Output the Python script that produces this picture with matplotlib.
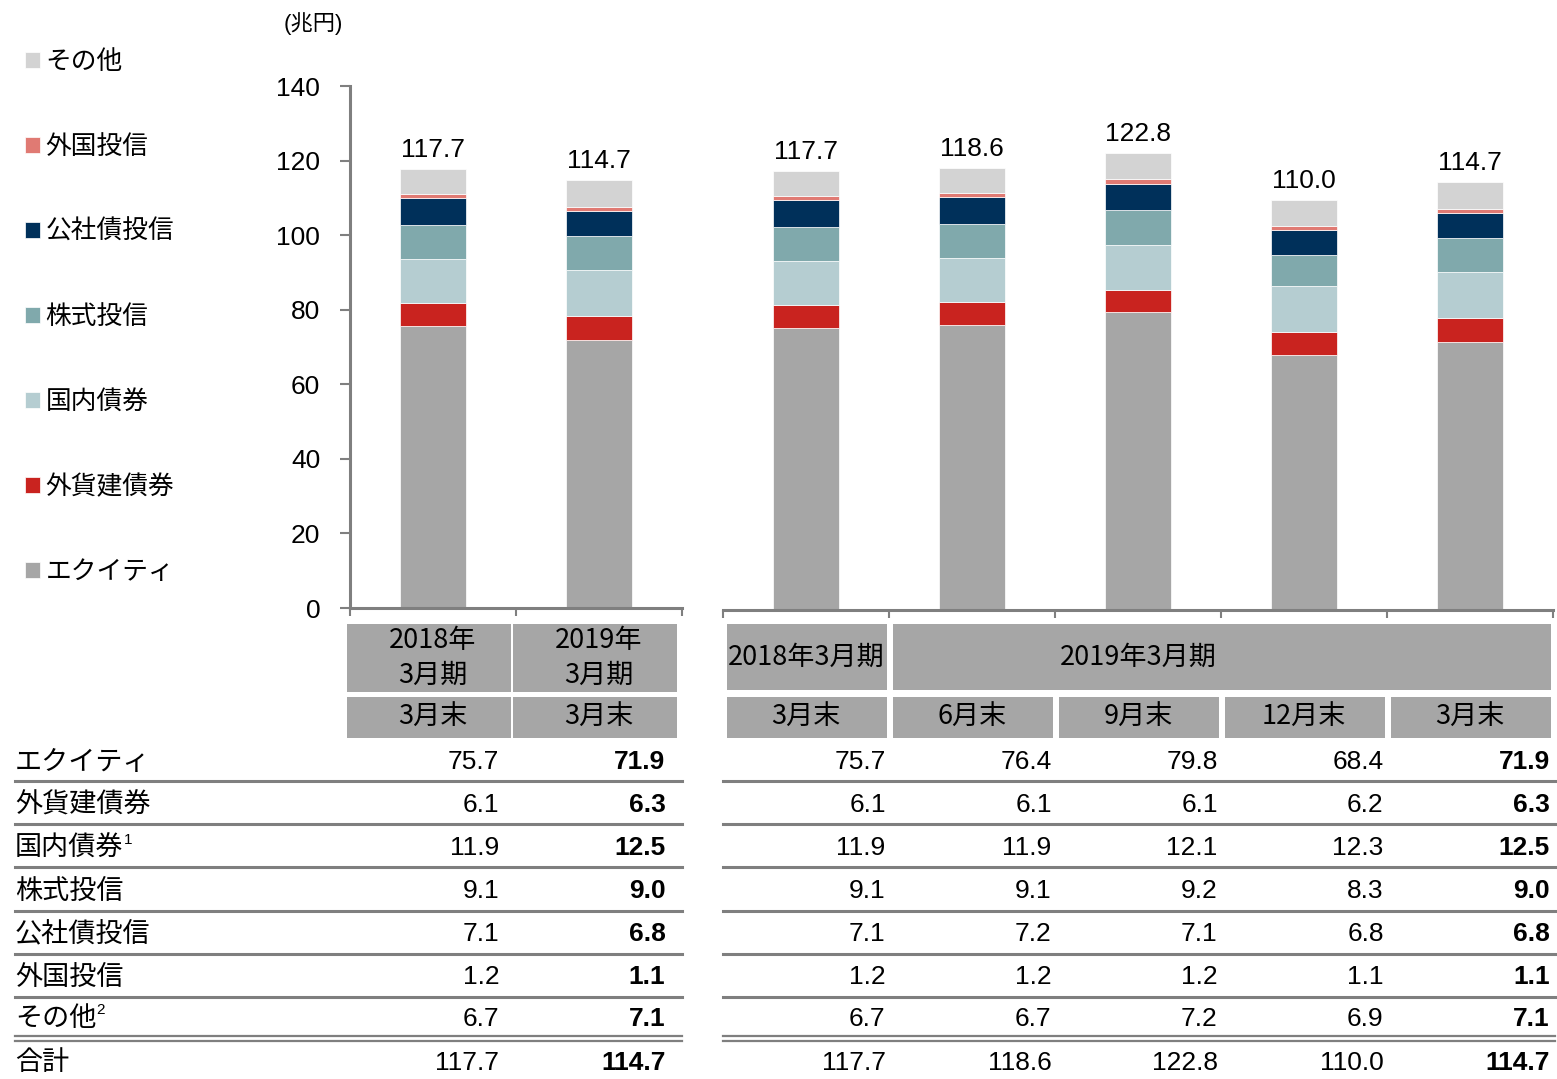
import matplotlib
matplotlib.use('Agg')
import matplotlib.pyplot as plt
import numpy as np
from matplotlib import transforms
from matplotlib.patches import Rectangle
from matplotlib.lines import Line2D

# data (兆円)
series = ['エクイティ', '外貨建債券', '国内債券', '株式投信', '公社債投信', '外国投信', 'その他']
row_labels = ['エクイティ', '外貨建債券', '国内債券', '株式投信', '公社債投信', '外国投信', 'その他', '合計']
row_notes = ['', '', '1', '', '', '', '2', '']

# fiscal year-end panel
fy_period = ['2018年\n3月期', '2019年\n3月期']
fy_month = ['3月末', '3月末']
fy_equity = [75.7, 71.9]
fy_fxbond = [6.1, 6.3]
fy_jpbond = [11.9, 12.5]
fy_stockfund = [9.1, 9.0]
fy_bondfund = [7.1, 6.8]
fy_foreignfund = [1.2, 1.1]
fy_other = [6.7, 7.1]
fy_total = [117.7, 114.7]

# quarter-end panel
q_period = ['2018年3月期', '2019年3月期']
q_period_span = [(0, 0), (1, 4)]
q_period_textpos = [0, 2]
q_month = ['3月末', '6月末', '9月末', '12月末', '3月末']
q_equity = [75.7, 76.4, 79.8, 68.4, 71.9]
q_fxbond = [6.1, 6.1, 6.1, 6.2, 6.3]
q_jpbond = [11.9, 11.9, 12.1, 12.3, 12.5]
q_stockfund = [9.1, 9.1, 9.2, 8.3, 9.0]
q_bondfund = [7.1, 7.2, 7.1, 6.8, 6.8]
q_foreignfund = [1.2, 1.2, 1.2, 1.1, 1.1]
q_other = [6.7, 6.7, 7.2, 6.9, 7.1]
q_total = [117.7, 118.6, 122.8, 110.0, 114.7]

colors = ['#a6a6a6', '#c9231f', '#b5cdd1', '#80a9ac', '#00305a', '#e07a73', '#d3d3d3']
axis_color = '#7f7f7f'
header_color = '#a6a6a6'

plt.rcParams['font.family'] = ['Liberation Sans', 'Noto Sans CJK JP']
num_font = ['Liberation Sans Narrow', 'Liberation Sans']
cjk_font = ['Noto Sans CJK JP', 'Liberation Sans']

W, H = 1557, 1079
fig = plt.figure(figsize=(W / 100, H / 100), dpi=100)


def rect(x0, y_top, x1, y_bottom):
    return [x0 / W, 1 - y_bottom / H, (x1 - x0) / W, (y_bottom - y_top) / H]


def fy(y):
    return 1 - y / H


axL = fig.add_axes(rect(350, 86, 682, 608))
axR = fig.add_axes(rect(723, 88, 1553, 610))


def draw_bars(ax, stacks, total):
    x = np.arange(len(total))
    bottom = np.zeros(len(total))
    containers = []
    for name, vals, c in zip(series, stacks, colors):
        bc = ax.bar(x, vals, width=0.4, bottom=bottom, color=c, label=name,
                    edgecolor='white', linewidth=0.5)
        bottom += np.array(vals)
        containers.append(bc)
    ax.bar_label(containers[-1], labels=[f'{t:.1f}' for t in total], padding=5, fontsize=19)
    ax.set_xlim(-0.5, len(total) - 0.5)
    ax.set_ylim(0, 140)
    ax.set_xticks([])
    ax.set_xticks(np.arange(len(total) + 1) - 0.5, minor=True)
    ax.tick_params(axis='x', which='minor', direction='out', length=6, width=1.5, color=axis_color)
    for s in ['top', 'right']:
        ax.spines[s].set_visible(False)
    ax.spines['bottom'].set_color(axis_color)
    ax.spines['bottom'].set_linewidth(2.2)
    return containers


fy_stacks = [fy_equity, fy_fxbond, fy_jpbond, fy_stockfund, fy_bondfund, fy_foreignfund, fy_other]
q_stacks = [q_equity, q_fxbond, q_jpbond, q_stockfund, q_bondfund, q_foreignfund, q_other]
handles = draw_bars(axL, fy_stacks, fy_total)
draw_bars(axR, q_stacks, q_total)

axL.set_yticks(np.arange(0, 141, 20))
axL.tick_params(axis='y', direction='out', length=7, width=1.5, color=axis_color, labelsize=19, pad=14.5)
axL.spines['left'].set_color(axis_color)
axL.spines['left'].set_linewidth(2.2)
axR.spines['left'].set_visible(False)
axR.set_yticks([])

fig.text(313 / W, fy(24), '(兆円)', ha='center', va='center', fontsize=16)

fig.legend(handles[::-1], series[::-1], loc='upper left', bbox_to_anchor=(25 / W, fy(50)),
           frameon=False, fontsize=18.5, handlelength=0.6, handleheight=0.6,
           handletextpad=0.2, labelspacing=2.37, borderpad=0, borderaxespad=0)


# header boxes under the axes
def header(ax, i0, i1, y0, y1, text, pad, tx=None, fs=19.5):
    tr = transforms.blended_transform_factory(ax.transData, fig.transFigure)
    ax.add_patch(Rectangle((i0 + pad[0], fy(y1)), (i1 - i0) + pad[1] - pad[0], fy(y0) - fy(y1),
                           transform=tr, color=header_color, clip_on=False, lw=0))
    if tx is None:
        tx = (i0 + i1) / 2
    ax.text(tx, fy((y0 + y1) / 2), text, transform=tr, ha='center', va='center',
            fontsize=fs, family=cjk_font, linespacing=1.4, clip_on=False)


padL = (-0.52, 0.47)
padR = (-0.475, 0.49)
for i, (p, m) in enumerate(zip(fy_period, fy_month)):
    header(axL, i, i, 624, 692, p, padL)
    header(axL, i, i, 697, 738, m, padL)
for p, (a, b), tx in zip(q_period, q_period_span, q_period_textpos):
    header(axR, a, b, 624, 690, p, padR, tx)
for i, m in enumerate(q_month):
    header(axR, i, i, 697, 738, m, padR)

# table
row_y = [762, 805, 848, 891, 934, 977, 1019, 1063]
line_y = [781, 824, 867, 911, 954, 997]
label_texts = []
for lab, y in zip(row_labels, row_y):
    label_texts.append(fig.text(15 / W, fy(y), lab, ha='left', va='center', fontsize=19.5, family=cjk_font))


def table_vals(ax, rows, offset):
    tr = transforms.blended_transform_factory(ax.transData, fig.transFigure)
    for vals, y in zip(rows, row_y):
        n = len(vals)
        for i, v in enumerate(vals):
            ax.text(i + offset, fy(y), f'{v:.1f}', transform=tr, ha='right', va='center',
                    fontsize=19, family=num_font, clip_on=False,
                    fontweight='bold' if i == n - 1 else 'normal')


table_vals(axL, fy_stacks + [fy_total], 0.40)
table_vals(axR, q_stacks + [q_total], 0.48)

for x0, x1 in [(15, 682), (723, 1555)]:
    for y in line_y:
        fig.add_artist(Line2D([x0 / W, x1 / W], [fy(y), fy(y)], color=axis_color, lw=2.2))
    for y in [1036, 1041]:
        fig.add_artist(Line2D([x0 / W, x1 / W], [fy(y), fy(y)], color=axis_color, lw=1.6))

fig.canvas.draw()
renderer = fig.canvas.get_renderer()
for t, note in zip(label_texts, row_notes):
    if note:
        bb = t.get_window_extent(renderer)
        fig.text(bb.x1 / W, bb.y1 / H + 2 / H, note, ha='left', va='top', fontsize=11)

plt.savefig('out.png', dpi=100)
